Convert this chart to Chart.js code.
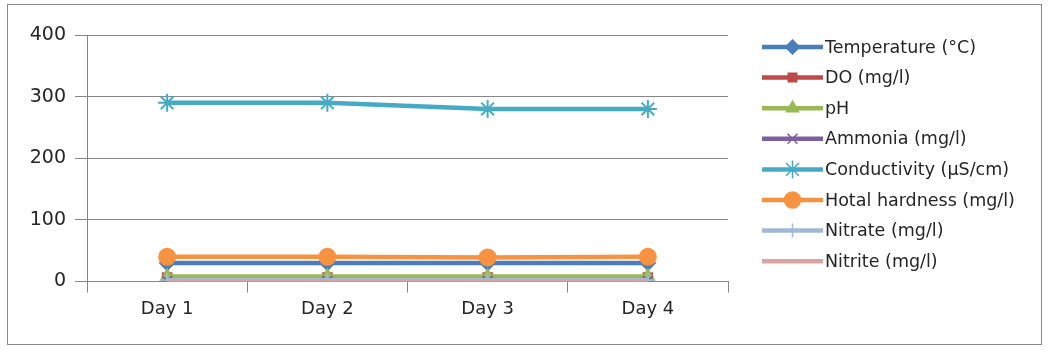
<!DOCTYPE html>
<html>
<head>
<meta charset="utf-8">
<script src="https://cdn.jsdelivr.net/npm/chart.js@4.4.1/dist/chart.umd.min.js"></script>
<style>
  html, body { margin: 0; padding: 0; background: #ffffff; }
  #wrap { position: relative; width: 1048px; height: 350px; }
</style>
</head>
<body>
<div id="wrap"><canvas id="c" width="1048" height="350"></canvas></div>
<script>
// Water quality readings over four days
const days = ['Day 1', 'Day 2', 'Day 3', 'Day 4'];
const yTicks = [0, 100, 200, 300, 400];

const temperature  = [30, 30, 30, 30];
const dissolvedO2  = [6.5, 6.5, 6.5, 6.5];
const ph           = [8, 8, 8, 8];
const ammonia      = [0.5, 0.5, 0.5, 0.5];
const conductivity = [290, 290, 280, 280];
const hardness     = [40, 40, 39, 40];
const nitrate      = [2, 2, 2, 2];
const nitrite      = [0.2, 0.2, 0.2, 0.2];

const seriesNames = ['Temperature (°C)', 'DO (mg/l)', 'pH', 'Ammonia (mg/l)',
  'Conductivity (µS/cm)', 'Hotal hardness (mg/l)', 'Nitrate (mg/l)', 'Nitrite (mg/l)'];

const FONT = '"DejaVu Sans", sans-serif';

function series(label, data, color, pointStyle, radius, idx) {
  return {
    label, data,
    borderColor: color,
    backgroundColor: color,
    pointBackgroundColor: color,
    pointBorderColor: color,
    borderWidth: 4.5,
    pointStyle: pointStyle,
    pointRadius: radius,
    pointHoverRadius: radius,
    pointBorderWidth: 2,
    tension: 0,
    order: 10 - idx
  };
}

const datasets = [
  series(seriesNames[0], temperature,  '#4A7EBB', 'rectRot',  7, 0),
  series(seriesNames[1], dissolvedO2,  '#BE4B48', 'rect',     6, 1),
  series(seriesNames[2], ph,           '#98B954', 'triangle', 7, 2),
  series(seriesNames[3], ammonia,      '#7D60A0', 'crossRot', 7, 3),
  series(seriesNames[4], conductivity, '#46AAC5', 'star',     9, 4),
  series(seriesNames[5], hardness,     '#F69240', 'circle',   8, 5),
  series(seriesNames[6], nitrate,      '#A3B7D8', 'cross',    7, 6),
  series(seriesNames[7], nitrite,      '#D9A5A3', 'circle',   0, 7)
];

// Outer frame plus a legend with line-and-marker samples
const framePlugin = {
  id: 'frameAndLegend',
  afterDraw(chart) {
    const ctx = chart.ctx;
    ctx.save();
    ctx.strokeStyle = '#8a8a8a';
    ctx.lineWidth = 1;
    ctx.strokeRect(7.5, 4.5, 1034, 340);

    const x0 = 762, x1 = 823, textX = 825, top = 47, step = 30.6;
    chart.data.datasets.forEach((ds, i) => {
      const y = top + i * step;
      ctx.strokeStyle = ds.borderColor;
      ctx.lineWidth = 4.5;
      ctx.beginPath();
      ctx.moveTo(x0, y);
      ctx.lineTo(x1, y);
      ctx.stroke();
      if (ds.pointRadius > 0) {
        ctx.fillStyle = ds.pointBackgroundColor;
        ctx.strokeStyle = ds.pointBorderColor;
        ctx.lineWidth = 1.5;
        Chart.helpers.drawPoint(ctx, {
          pointStyle: ds.pointStyle,
          radius: ds.pointRadius,
          rotation: 0,
          borderWidth: 1.5
        }, (x0 + x1) / 2, y);
      }
      ctx.fillStyle = '#262626';
      ctx.font = '17.5px ' + FONT;
      ctx.textAlign = 'left';
      ctx.textBaseline = 'middle';
      ctx.fillText(ds.label, textX, y + 1);
    });
    ctx.restore();
  }
};

new Chart(document.getElementById('c'), {
  type: 'line',
  data: { labels: days, datasets },
  options: {
    responsive: false,
    animation: false,
    devicePixelRatio: 1,
    layout: { padding: { left: 0, top: 35, right: 320, bottom: 0 } },
    plugins: { legend: { display: false }, tooltip: { enabled: false } },
    scales: {
      x: {
        offset: true,
        grid: {
          offset: true,
          drawOnChartArea: false,
          drawTicks: true,
          tickLength: 11,
          color: '#868686'
        },
        border: { display: true, color: '#868686', width: 1 },
        ticks: {
          color: '#262626',
          font: { family: FONT, size: 18 },
          padding: 6
        },
        afterFit(scale) { scale.height = 68.5; }
      },
      y: {
        min: 0, max: 400,
        afterBuildTicks(scale) { scale.ticks = yTicks.map(v => ({ value: v })); },
        grid: {
          color: '#868686',
          lineWidth: 1,
          drawTicks: true,
          tickLength: 12
        },
        border: { display: true, color: '#868686', width: 1 },
        ticks: {
          color: '#262626',
          font: { family: FONT, size: 19 },
          padding: 9
        },
        afterFit(scale) { scale.width = 87; }
      }
    }
  },
  plugins: [framePlugin]
});
</script>
</body>
</html>
